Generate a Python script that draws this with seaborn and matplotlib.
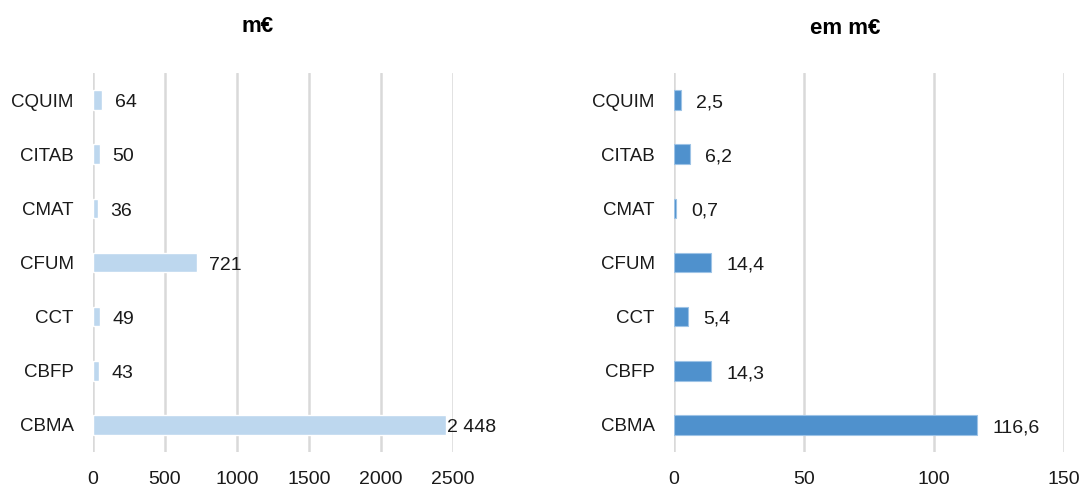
import numpy as np
import pandas as pd
import matplotlib
matplotlib.use("Agg")
import matplotlib.pyplot as plt
import seaborn as sns

# centres, top to bottom
centros = ["CQUIM", "CITAB", "CMAT", "CFUM", "CCT", "CBFP", "CBMA"]
valores_esq = [64, 50, 36, 721, 49, 43, 2448]
valores_dir = [2.5, 6.2, 0.7, 14.4, 5.4, 14.3, 116.6]
titulo_esq = "m€"
titulo_dir = "em m€"
ticks_esq = [0, 500, 1000, 1500, 2000, 2500]
ticks_dir = [0, 50, 100, 150]

sns.set_theme(style="white")
plt.rcParams["font.family"] = ["Liberation Sans", "DejaVu Sans"]

df = pd.DataFrame({"centro": centros, "esq": valores_esq, "dir": valores_dir})

fig = plt.figure(figsize=(10.8, 4.93), dpi=100)
ax1 = fig.add_axes([93 / 1080, 1 - 452 / 493, 360 / 1080, 379 / 493])
ax2 = fig.add_axes([674 / 1080, 1 - 452 / 493, 390 / 1080, 379 / 493])

sns.barplot(ax=ax1, data=df, x="esq", y="centro", orient="h",
            color="#BDD7EE", width=0.36, saturation=1)
sns.barplot(ax=ax2, data=df, x="dir", y="centro", orient="h",
            color="#4F91CD", width=0.36, saturation=1,
            edgecolor="#9DC3E6", linewidth=0.8)

def fmt_esq(v):
    return f"{int(v):,}".replace(",", " ")

def fmt_dir(v):
    return f"{v:.1f}".replace(".", ",")

for ax, ticks in [(ax1, ticks_esq), (ax2, ticks_dir)]:
    ax.set_xlim(ticks[0], ticks[-1])
    ax.set_xticks(ticks)
    ax.set_xticklabels([str(t) for t in ticks], fontsize=14, color="#1a1a1a")
    ax.tick_params(axis="x", length=0, pad=14)
    ax.tick_params(axis="y", length=0, pad=14, labelsize=13.5, labelcolor="#1a1a1a")
    ax.set_xlabel("")
    ax.set_ylabel("")
    ax.grid(axis="x", color="#D9D9D9", linewidth=1.8)
    ax.set_axisbelow(True)
    for s in ax.spines.values():
        s.set_visible(False)

for bar, v in zip(ax1.containers[0], valores_esq):
    lab = fmt_esq(v)
    pad = 1 if v > 2000 else 9
    ax1.annotate(lab, (bar.get_x() + bar.get_width(), bar.get_y() + bar.get_height() / 2),
                 xytext=(pad, -2), textcoords="offset points", va="center", ha="left",
                 fontsize=14, color="#1a1a1a", annotation_clip=False)

for bar, v in zip(ax2.containers[0], valores_dir):
    ax2.annotate(fmt_dir(v), (bar.get_x() + bar.get_width(), bar.get_y() + bar.get_height() / 2),
                 xytext=(11, -2), textcoords="offset points", va="center", ha="left",
                 fontsize=14, color="#1a1a1a", annotation_clip=False)

fig.text(258 / 1080, 1 - 27 / 493, titulo_esq, ha="center", va="center",
         fontsize=16, fontweight="bold", color="black")
fig.text(845 / 1080, 1 - 28 / 493, titulo_dir, ha="center", va="center",
         fontsize=16, fontweight="bold", color="black")

fig.savefig("out.png", dpi=100)
